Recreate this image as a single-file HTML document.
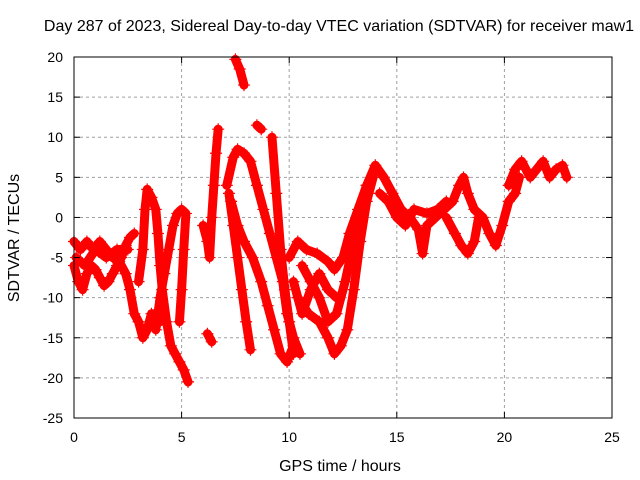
<!DOCTYPE html>
<html><head><meta charset="utf-8"><style>
body{margin:0;background:#fff}
svg{display:block;font-family:"Liberation Sans",sans-serif}
</style></head><body>
<svg id="chart" width="640" height="480" xmlns="http://www.w3.org/2000/svg">
<rect width="640" height="480" fill="#fff"/>
<text x="339" y="31" font-size="16" text-anchor="middle">Day 287 of 2023, Sidereal Day-to-day VTEC variation (SDTVAR) for receiver maw1</text>
<g id="grid"></g>
<g id="marks"></g>
<g id="axes"></g>
<text x="340" y="471" font-size="16" text-anchor="middle">GPS time / hours</text>
<text transform="translate(19,238) rotate(-90)" font-size="16" text-anchor="middle">SDTVAR / TECUs</text>
</svg>
<script>
const xTicks=[0,5,10,15,20,25];
const yTicks=[20,15,10,5,0,-5,-10,-15,-20,-25];
const trackA=[[0,-6],[0.2,-8],[0.4,-9],[0.6,-7],[0.8,-6],[1.0,-6.5],[1.2,-7.5],[1.4,-8.5],[1.6,-8],[1.8,-7],[2.0,-6],[2.2,-5],[2.4,-3.5],[2.6,-2.5],[2.8,-2]];
const trackB=[[0,-3],[0.3,-4],[0.6,-3],[0.9,-4],[1.2,-3],[1.5,-4],[1.8,-5],[2.1,-5.5],[2.4,-7],[2.6,-9],[2.8,-12],[3.0,-13],[3.2,-15],[3.4,-14],[3.6,-12],[3.8,-12],[4.0,-13]];
const trackC=[[3.0,-8],[3.2,-4],[3.3,1],[3.4,3.5],[3.6,2.5],[3.8,1],[3.9,-2],[4.0,-6],[4.1,-9],[4.3,-13],[4.5,-16],[4.7,-17],[4.9,-18],[5.1,-19],[5.3,-20.5]];
const trackD=[[3.8,-14],[4.0,-10],[4.2,-7],[4.4,-4],[4.6,-1],[4.8,0.5],[5.0,1],[5.2,0.5],[5.1,-4],[5.0,-9],[4.9,-13]];
const trackE=[[6.0,-1],[6.2,-3],[6.3,-5],[6.4,0],[6.5,4],[6.6,8],[6.7,11]];
const trackF=[[6.2,-14.5],[6.4,-15.5]];
const trackG=[[7.5,19.7],[7.7,18.5],[7.9,16.5]];
const trackH=[[8.5,11.5],[8.7,11]];
const trackI=[[7.1,4],[7.4,7.5],[7.6,8.5],[7.9,8],[8.2,7],[8.5,4],[8.8,1],[9.1,-2],[9.4,-5],[9.7,-8],[9.9,-12],[10.2,-15],[10.5,-17]];
const trackJ=[[7.3,2],[7.6,-1],[7.9,-3],[8.3,-5],[8.7,-8],[9.0,-11],[9.3,-14],[9.6,-17],[9.9,-18],[10.2,-16]];
const trackK=[[7.2,3],[7.4,-1],[7.6,-5],[7.8,-9],[8.0,-13],[8.2,-16.5]];
const trackL=[[9.2,10],[9.4,3],[9.6,-4],[9.8,-9],[10.0,-13],[10.2,-17]];
const trackM=[[10.0,-5],[10.4,-3],[10.8,-4],[11.3,-4.5],[11.8,-5.5],[12.1,-6.5],[12.5,-5],[12.8,-2],[13.2,1],[13.6,4],[14.0,6.5],[14.4,5],[14.8,3],[15.2,1],[15.6,0],[16.0,-1.5],[16.2,-4.5],[16.4,-1],[16.8,0],[17.2,1],[17.6,2],[17.9,4],[18.1,5],[18.3,3],[18.6,1],[19.0,0],[19.3,-2],[19.6,-3.5],[19.9,-1],[20.2,2],[20.5,3],[20.7,5]];
const trackN=[[10.4,-10],[10.9,-12],[11.4,-13],[11.8,-15],[12.1,-17],[12.4,-16],[12.7,-14],[13.0,-9],[13.3,-3],[13.6,2],[13.9,5]];
const trackO=[[10.6,-6],[11.0,-8],[11.4,-10],[11.8,-13],[12.2,-12],[12.6,-8],[13.0,-3],[13.3,1],[13.6,4]];
const trackP=[[17.3,0],[17.7,-2],[18.0,-3.5],[18.3,-4.5],[18.6,-3],[18.8,0]];
const trackQ=[[20.2,4],[20.5,6],[20.8,7],[21.2,5],[21.5,6],[21.8,7],[22.1,5],[22.4,6],[22.7,6.5],[22.9,5]];
const trackR=[[10.2,-8],[10.6,-12],[11.0,-9],[11.4,-7],[11.8,-9],[12.2,-10]];
const trackS=[[14.2,3],[14.6,2],[15.0,0],[15.4,-1],[15.8,1],[16.4,0.5],[16.9,1],[17.3,2]];
const trackT=[[0.1,-5],[0.5,-6],[1.0,-4],[1.5,-5],[2.0,-4],[2.5,-4]];
const tracks=[trackA,trackB,trackC,trackD,trackE,trackF,trackG,trackH,trackI,trackJ,trackK,trackL,trackM,trackN,trackO,trackP,trackQ,trackR,trackS,trackT];
const X0=74,X1=612,Y0=418,Y1=57;
const xs=h=>X0+(h-0)/25*(X1-X0);
const ys=v=>Y0-(v+25)/45*(Y0-Y1);
const NS="http://www.w3.org/2000/svg";
function mk(tag,attrs,parent){const e=document.createElementNS(NS,tag);for(const k in attrs)e.setAttribute(k,attrs[k]);parent.appendChild(e);return e;}
const grid=document.getElementById('grid'),axes=document.getElementById('axes'),marks=document.getElementById('marks');
xTicks.forEach(t=>{const x=xs(t);
 if(t>0&&t<25){const g=mk('line',{x1:x,x2:x,y1:Y1,y2:Y0,stroke:'#a0a0a0','stroke-dasharray':'3,3'},grid);}
 mk('line',{x1:x,x2:x,y1:Y0,y2:Y0-6,stroke:'#000'},axes);mk('line',{x1:x,x2:x,y1:Y1,y2:Y1+6,stroke:'#000'},axes);
 const l=mk('text',{x:x,y:Y0+24,'font-size':14,'text-anchor':'middle'},axes);l.textContent=t;
 
 });
yTicks.forEach(t=>{const y=ys(t);
 if(t>-25&&t<20){const g=mk('line',{x1:X0,x2:X1,y1:y,y2:y,stroke:'#a0a0a0','stroke-dasharray':'3,3'},grid);}
 mk('line',{x1:X0,x2:X0+6,y1:y,y2:y,stroke:'#000'},axes);mk('line',{x1:X1,x2:X1-6,y1:y,y2:y,stroke:'#000'},axes);
 const l=mk('text',{x:X0-11,y:y+5,'font-size':14,'text-anchor':'end'},axes);l.textContent=t;
 
 });
const frame=mk('rect',{x:X0,y:Y1,width:X1-X0,height:Y0-Y1,fill:'none',stroke:'#000'},axes);


tracks.forEach(tr=>{
 const pl=mk('polyline',{points:tr.map(p=>xs(p[0])+','+ys(p[1])).join(' '),fill:'none',stroke:'#ff0000','stroke-width':9,'stroke-linejoin':'round','stroke-linecap':'round'},marks);
 
 
 tr.forEach(p=>{const x=xs(p[0]),y=ys(p[1]);
  const m=mk('path',{d:`M${x-6},${y}H${x+6}M${x},${y-6}V${y+6}`,stroke:'#ff0000','stroke-width':1.2},marks);
  
  });
});
</script>
</body></html>
